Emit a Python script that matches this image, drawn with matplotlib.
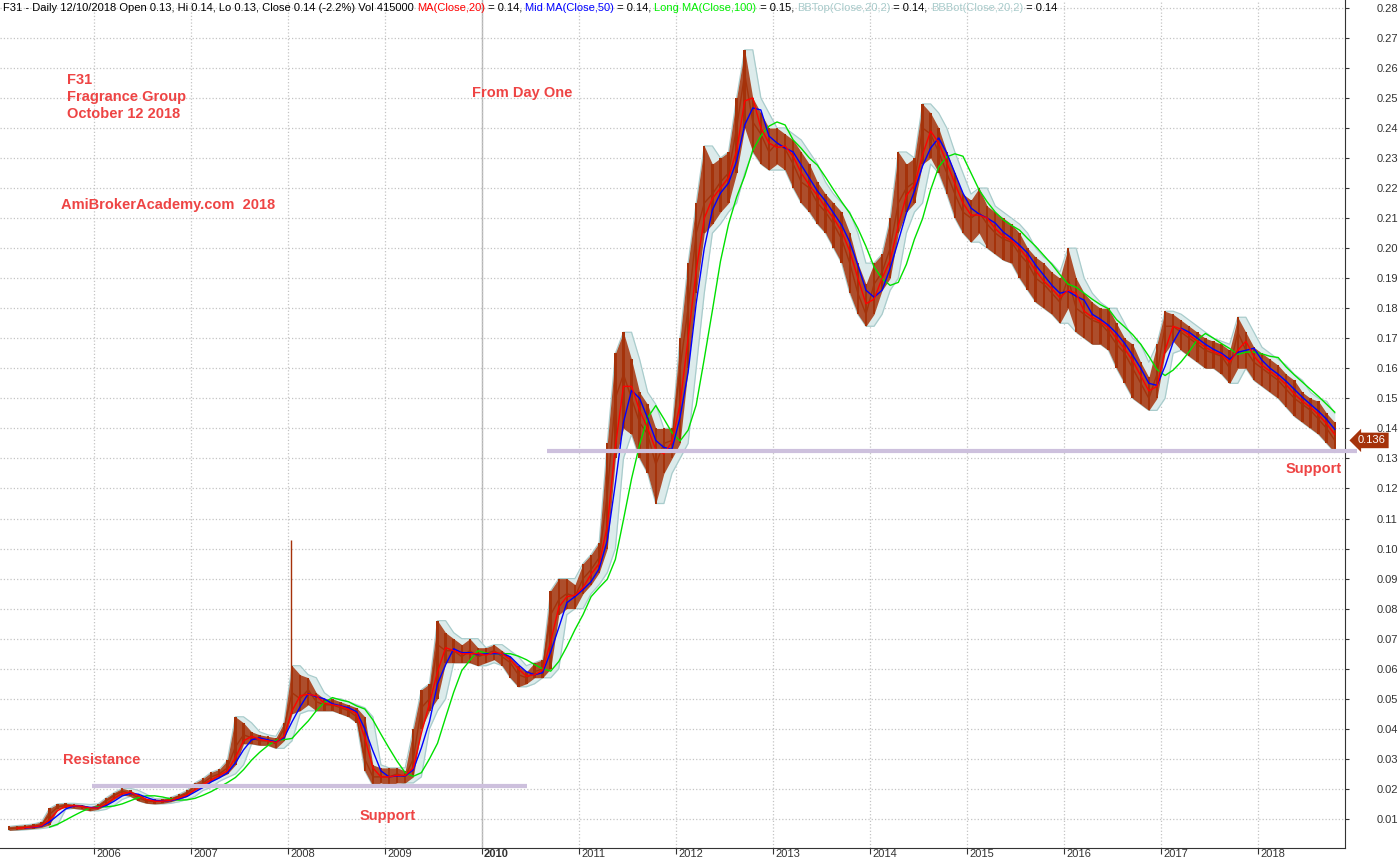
import matplotlib
matplotlib.use('Agg')
import matplotlib.pyplot as plt
import matplotlib.transforms as mtransforms
import numpy as np
import pandas as pd

# precios mensuales (feb 2005 - oct 2018)
close = [
    0.0068, 0.0070, 0.0072, 0.0075, 0.0080, 0.0115, 0.0140, 0.0145, 0.0143, 0.0140, 0.0133,  # 2005
    0.0140, 0.0160, 0.0178, 0.0192, 0.0185, 0.0170, 0.0160, 0.0158, 0.0160, 0.0165, 0.0175, 0.0185,  # 2006
    0.0210, 0.0220, 0.0240, 0.0250, 0.0270, 0.0340, 0.0380, 0.0370, 0.0360, 0.0360, 0.0350, 0.0400,  # 2007
    0.052, 0.050, 0.053, 0.049, 0.048, 0.048, 0.047, 0.046, 0.044, 0.030, 0.024, 0.024,  # 2008
    0.024, 0.025, 0.024, 0.030, 0.047, 0.050, 0.068, 0.066, 0.066, 0.064, 0.066, 0.064,  # 2009
    0.065, 0.066, 0.064, 0.062, 0.058, 0.057, 0.059, 0.060, 0.078, 0.083, 0.085, 0.084,  # 2010
    0.090, 0.093, 0.097, 0.118, 0.150, 0.158, 0.150, 0.142, 0.138, 0.128, 0.135, 0.136,  # 2011
    0.160, 0.180, 0.205, 0.215, 0.218, 0.222, 0.225, 0.240, 0.258, 0.242, 0.238, 0.232,  # 2012
    0.235, 0.233, 0.228, 0.222, 0.220, 0.215, 0.212, 0.208, 0.203, 0.195, 0.185, 0.178,  # 2013
    0.188, 0.192, 0.200, 0.215, 0.220, 0.222, 0.240, 0.238, 0.232, 0.225, 0.218, 0.212,  # 2014
    0.210, 0.212, 0.208, 0.205, 0.203, 0.202, 0.198, 0.195, 0.190, 0.188, 0.185, 0.182,  # 2015
    0.190, 0.180, 0.178, 0.176, 0.175, 0.172, 0.168, 0.165, 0.160, 0.155, 0.150, 0.158,  # 2016
    0.174, 0.174, 0.172, 0.170, 0.168, 0.166, 0.165, 0.164, 0.160, 0.172, 0.166, 0.162,  # 2017
    0.160, 0.158, 0.156, 0.153, 0.150, 0.148, 0.146, 0.143, 0.140, 0.136,  # 2018
]
high = [
    0.0075, 0.0078, 0.0080, 0.0083, 0.0090, 0.0135, 0.0150, 0.0152, 0.0150, 0.0148, 0.0140,
    0.0150, 0.0170, 0.0188, 0.0202, 0.0195, 0.0182, 0.0168, 0.0165, 0.0167, 0.0172, 0.0182, 0.0195,
    0.0220, 0.0235, 0.0255, 0.0265, 0.0295, 0.0440, 0.0420, 0.0390, 0.0380, 0.0375, 0.0370, 0.0420,
    0.061, 0.058, 0.057, 0.052, 0.050, 0.050, 0.049, 0.048, 0.047, 0.044, 0.028, 0.027,
    0.027, 0.027, 0.026, 0.040, 0.053, 0.055, 0.076, 0.072, 0.070, 0.068, 0.070, 0.067,
    0.067, 0.068, 0.066, 0.064, 0.061, 0.059, 0.062, 0.063, 0.086, 0.090, 0.090, 0.088,
    0.095, 0.098, 0.102, 0.135, 0.165, 0.172, 0.163, 0.152, 0.148, 0.140, 0.140, 0.140,
    0.170, 0.195, 0.215, 0.234, 0.228, 0.230, 0.232, 0.250, 0.266, 0.250, 0.245, 0.240,
    0.240, 0.238, 0.236, 0.232, 0.228, 0.222, 0.218, 0.215, 0.212, 0.205, 0.195, 0.188,
    0.195, 0.198, 0.210, 0.232, 0.228, 0.230, 0.248, 0.245, 0.240, 0.232, 0.225, 0.218,
    0.216, 0.220, 0.214, 0.212, 0.210, 0.208, 0.205, 0.200, 0.197, 0.195, 0.192, 0.190,
    0.200, 0.190, 0.185, 0.182, 0.180, 0.180, 0.175, 0.170, 0.168, 0.162, 0.157, 0.168,
    0.179, 0.178, 0.176, 0.174, 0.172, 0.170, 0.169, 0.168, 0.166, 0.177, 0.172, 0.167,
    0.165, 0.163, 0.161, 0.158, 0.156, 0.152, 0.150, 0.149, 0.145, 0.142,
]
low = [
    0.0062, 0.0064, 0.0066, 0.0068, 0.0072, 0.0080, 0.0132, 0.0138, 0.0135, 0.0132, 0.0127,
    0.0132, 0.0145, 0.0165, 0.0180, 0.0175, 0.0160, 0.0152, 0.0150, 0.0152, 0.0157, 0.0165, 0.0175,
    0.0195, 0.0205, 0.0225, 0.0238, 0.0250, 0.0280, 0.0350, 0.0350, 0.0345, 0.0345, 0.0335, 0.0360,
    0.045, 0.046, 0.048, 0.046, 0.046, 0.046, 0.045, 0.044, 0.042, 0.026, 0.021, 0.022,
    0.021, 0.022, 0.022, 0.024, 0.040, 0.046, 0.050, 0.062, 0.062, 0.062, 0.062, 0.061,
    0.062, 0.063, 0.061, 0.057, 0.054, 0.055, 0.057, 0.057, 0.060, 0.078, 0.080, 0.080,
    0.085, 0.088, 0.092, 0.100, 0.130, 0.140, 0.138, 0.130, 0.125, 0.115, 0.125, 0.130,
    0.135, 0.160, 0.185, 0.205, 0.208, 0.212, 0.215, 0.225, 0.240, 0.232, 0.228, 0.226,
    0.228, 0.226, 0.220, 0.215, 0.212, 0.208, 0.205, 0.200, 0.195, 0.185, 0.178, 0.174,
    0.178, 0.186, 0.190, 0.205, 0.212, 0.215, 0.228, 0.230, 0.225, 0.218, 0.210, 0.205,
    0.202, 0.205, 0.200, 0.198, 0.196, 0.195, 0.190, 0.186, 0.182, 0.180, 0.178, 0.175,
    0.180, 0.172, 0.170, 0.168, 0.168, 0.166, 0.160, 0.155, 0.150, 0.148, 0.146, 0.150,
    0.165, 0.169, 0.166, 0.164, 0.162, 0.160, 0.160, 0.158, 0.155, 0.160, 0.160, 0.156,
    0.154, 0.152, 0.150, 0.147, 0.144, 0.142, 0.140, 0.138, 0.135, 0.132,
]
# pico aislado de enero 2008
spike_t = [2008.03]
spike_hi = [0.103]
spike_lo = [0.050]

years = list(range(2006, 2019))
resistance_level = 0.021
resistance_span = (2005.98, 2010.46)
support_level = 0.1325
support_span = (2010.67, 2019.02)

title_parts = [
    ("F31 - Daily 12/10/2018 Open 0.13, Hi 0.14, Lo 0.13, Close 0.14 (-2.2%) Vol 415000 ", 'black'),
    ("MA(Close,20)", '#ff0000'), (" = 0.14, ", 'black'),
    ("Mid MA(Close,50)", '#0000ff'), (" = 0.14, ", 'black'),
    ("Long MA(Close,100)", '#00ee00'), (" = 0.15, ", 'black'),
    ("BBTop(Close,20,2)", '#a9cccc'), (" = 0.14, ", 'black'),
    ("BBBot(Close,20,2)", '#a9cccc'), (" = 0.14", 'black'),
]

plt.rcParams['font.family'] = ['Liberation Sans', 'DejaVu Sans']

W, H = 1400, 861
BROWN = '#a5320a'
NOTE = '#ee4444'

meses = pd.date_range('2005-02-01', periods=len(close), freq='MS')
t = np.array(meses.year + (meses.month - 0.5) / 12.0)

df = pd.DataFrame({'close': close, 'high': high, 'low': low}, index=t)
ma20 = df['close'].rolling(2).mean()
ma50 = df['close'].rolling(3).mean()
ma100 = df['close'].rolling(5).mean().shift(1)
bb_top = df['high'].rolling(2, min_periods=1).max()
bb_bot = df['low'].rolling(2, min_periods=1).min()

fig = plt.figure(figsize=(W / 100, H / 100), dpi=100)
ax = fig.add_axes([0, 13 / H, 1345 / W, 848 / H])

# bandas de bollinger
ax.fill_between(t, bb_bot, bb_top, color='#dcebeb', lw=0, zorder=1)
ax.plot(t, bb_top, color='#a9cccc', lw=0.9, zorder=1.5)
ax.plot(t, bb_bot, color='#a9cccc', lw=0.9, zorder=1.5)

# precio
ax.fill_between(t, df['low'], df['high'], color=BROWN, lw=0, alpha=0.85, zorder=2)
ax.bar(t, df['high'] - df['low'], bottom=df['low'], width=0.025, color=BROWN, zorder=2)
ax.plot(t, df['close'], color=BROWN, lw=1.0, zorder=2)
ax.vlines(spike_t, spike_lo, spike_hi, color=BROWN, lw=1, zorder=2)

# medias moviles
ax.plot(t, ma100, color='#00e000', lw=1, zorder=3)
ax.plot(t, ma50, color='#0000ff', lw=1, zorder=3.1)
ax.plot(t, ma20, color='#ff0000', lw=1, zorder=3.2)

# soporte / resistencia
ax.hlines(resistance_level, *resistance_span, color='#cdc0dd', lw=3, zorder=4)
ax.hlines(support_level, *support_span, color='#cdc0dd', lw=3, zorder=4, clip_on=False)

ax.set_xlim(2005.031, 2018.897)
ax.set_ylim(0.00033, 0.2826)

for s in ['left', 'top']:
    ax.spines[s].set_visible(False)
ax.spines['right'].set_color('#333333')
ax.spines['bottom'].set_color('#333333')

yt = np.round(np.arange(0.01, 0.2801, 0.01), 2)
ax.set_yticks(yt)
ax.set_yticklabels([f'{v:.2f}' for v in yt])
ax.yaxis.tick_right()
ax.tick_params(axis='y', direction='out', length=3, pad=20, labelsize=8, colors='#333333')
for lbl in ax.get_yticklabels():
    lbl.set_horizontalalignment('left')

ax.set_xticks(years)
ax.set_xticklabels([str(y) for y in years])
ax.tick_params(axis='x', direction='out', length=4, pad=-3.5, labelsize=8, colors='#333333')
offset = mtransforms.ScaledTranslation(2 / 100, 0, fig.dpi_scale_trans)
for lbl in ax.get_xticklabels():
    lbl.set_horizontalalignment('left')
    lbl.set_transform(lbl.get_transform() + offset)
    if lbl.get_text() == '2010':
        lbl.set_fontweight('bold')

ax.grid(True, which='major', linestyle=':', color='#c4c4c4', lw=0.9, zorder=0)
ax.axvline(2010, color='#b4b4b4', lw=1, zorder=0.5)
ax.set_axisbelow(True)

# etiqueta de ultimo precio
ax.annotate(f'{close[-1]:.3f}', xy=(1.0, close[-1]), xycoords=('axes fraction', 'data'),
            xytext=(13, 0), textcoords='offset pixels', ha='left', va='center',
            fontsize=8, color='white',
            bbox=dict(boxstyle='larrow,pad=0.25', fc=BROWN, ec='none'),
            annotation_clip=False, zorder=6)

# titulo en varios colores
prev = fig.text(3 / W, 1 - 11 / H, title_parts[0][0], color=title_parts[0][1],
                fontsize=8, va='baseline', ha='left')
for txt, col in title_parts[1:]:
    prev = ax.annotate(txt, xy=(1, 0), xycoords=prev, va='bottom', ha='left',
                       fontsize=8, color=col, annotation_clip=False)


def nota(x, y, s):
    fig.text(x / W, 1 - y / H, s, color=NOTE, fontsize=10.5, fontweight='bold',
             ha='left', va='center')


nota(67, 80, 'F31')
nota(67, 97, 'Fragrance Group')
nota(67, 114, 'October 12 2018')
nota(472, 93, 'From Day One')
nota(61, 205, 'AmiBrokerAcademy.com  2018')
nota(63, 760, 'Resistance')
nota(360, 816, 'Support')
nota(1286, 469, 'Support')

fig.savefig('out.png', dpi=100)
